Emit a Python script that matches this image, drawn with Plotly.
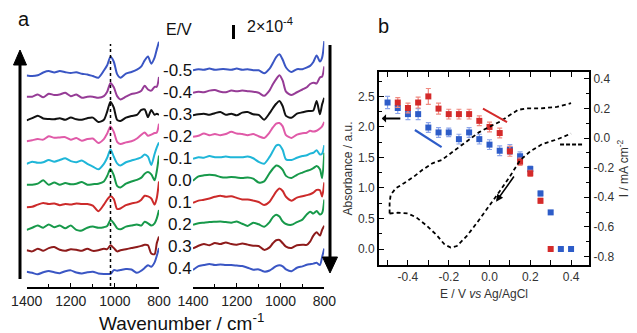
import plotly.graph_objects as go

# ---------------- data: panel a (spectra, units of ~1e-4 absorbance) ----------------
wavenumber = [1400, 1375, 1350, 1325, 1300, 1275, 1250, 1225, 1200, 1175, 1150, 1125, 1100, 1075,
              1050, 1035, 1020, 1005, 990, 975, 950, 925, 900, 880, 865, 850, 835, 820, 810, 800]
potentials = ["-0.5", "-0.4", "-0.3", "-0.2", "-0.1", "0.0", "0.1", "0.2", "0.3", "0.4"]

left_m05 = [-0.25, -0.35, -0.2, 0.3, 0.55, 0.3, 0.55, 0.35, 0.2, 0.35, 0.05, -0.05, -0.35, -0.65, 0.65, 1.6, 3.15, 2.25, 0.0, -0.65, 0.1, 0.4, 0.8, 1.4, 2.5, 3.2, 1.9, 3.0, 4.5, 5.9]
left_m04 = [-0.1, -0.1, 0.3, -0.2, 0.45, 0.2, 0.3, 0.6, 0.0, 0.3, -0.3, -0.1, -0.1, -0.3, 0.0, 0.8, 2.4, 1.6, 0.0, -0.6, -0.1, 0.4, 0.6, 1.0, 1.9, 1.2, 1.0, 1.7, 1.7, 3.5]
left_m03 = [-0.4, 0.0, 0.45, -0.05, -0.15, -0.2, 0.0, -0.3, 0.1, -0.2, -0.3, 0.0, 0.1, -0.7, -0.3, 1.2, 3.0, 1.9, -0.3, -0.5, 0.1, 0.4, 0.6, 1.5, 1.6, 0.2, 1.5, 0.6, 0.8, 0.6]
left_m02 = [-0.2, 0.0, 0.2, 0.1, 0.7, 0.45, 0.5, 0.55, 0.1, 0.4, -0.1, 0.2, 0.3, -0.5, 0.2, 1.2, 2.5, 1.5, -0.3, -0.7, -0.4, -0.2, 0.3, 1.0, 1.4, 0.8, 1.0, 1.3, 1.4, 3.0]
left_m01 = [-0.3, 0.1, -0.1, 0.0, 0.4, 0.1, 0.4, 0.7, 0.2, 0.0, 0.3, -0.3, -0.8, -1.3, -0.3, 0.8, 2.3, 1.0, -0.2, -0.6, 0.0, 0.3, 0.6, 0.9, 1.4, 1.0, -0.5, 1.5, 2.7, 3.6]
left_p00 = [-0.1, -0.1, 0.1, 0.7, -0.1, 0.3, -0.1, 0.2, 0.0, 0.1, 0.4, -0.1, 0.0, 0.1, 0.5, 1.5, 2.8, 1.6, -0.3, -0.6, 0.1, 0.5, 0.8, 1.2, 1.9, 2.2, 1.8, 0.7, 2.4, 5.2]
left_p01 = [-0.2, -0.1, 0.3, 0.6, 0.4, 0.5, 0.2, 0.4, 0.3, 0.5, 0.4, 0.4, 0.1, -0.9, 0.3, 1.2, 1.8, 1.3, -0.5, -0.4, 0.2, 0.5, 0.7, 1.2, 1.9, 1.8, 1.4, 0.3, 1.5, 4.5]
left_p02 = [-0.3, 0.1, 0.5, 0.1, 0.7, 0.2, 0.5, 0.0, 0.5, -0.3, -0.4, 0.1, 0.3, 0.1, 0.2, 0.4, 1.5, 0.9, 0.0, -0.2, 0.3, 0.5, 0.7, 0.5, 1.2, 0.9, 0.5, 0.9, 1.8, 3.3]
left_p03 = [0.0, -0.2, 0.3, -0.1, 0.4, 0.6, 0.1, -0.1, 0.2, 0.1, -0.1, 0.3, -0.1, 0.0, 0.3, 0.2, 0.9, 0.4, -0.2, 0.0, 0.2, 0.4, 0.6, 0.8, 1.0, 0.9, -0.6, -0.7, 1.3, 2.5]
left_p04 = [0.1, -0.1, -0.35, 0.0, 0.25, 0.0, -0.15, 0.2, 0.35, -0.05, -0.2, 0.0, 0.1, -0.2, -0.3, -0.3, -0.3, 0.4, 0.3, 0.4, 0.6, 0.5, -0.1, 0.3, 0.8, 1.3, 1.0, 1.8, 3.0, 4.4]

right_m05 = [0.0, 0.2, 0.1, 0.3, 0.1, 0.2, 0.2, 0.1, 0.3, 0.1, 0.2, 0.0, 0.0, -0.55, 0.3, 1.3, 2.4, 2.9, 1.9, 0.5, -0.3, 0.2, 0.2, 0.5, 0.8, 1.5, 2.7, 1.6, 2.3, 5.3]
right_m04 = [-0.1, 0.1, 0.0, 0.3, 0.4, 0.1, 0.0, 0.3, 0.2, 0.3, 0.2, 0.1, -0.1, -0.65, 0.35, 1.45, 2.4, 3.1, 2.1, 0.1, -0.5, 0.0, 0.5, 0.9, 1.5, 1.75, 1.6, 2.7, 2.85, 4.7]
right_m03 = [-0.2, 0.0, 0.1, -0.1, 0.2, 0.4, -0.1, 0.1, -0.2, 0.3, 0.4, 0.0, -0.1, -1.0, 0.2, 1.1, 1.9, 2.4, 1.45, -0.3, -0.65, 0.1, 0.35, 0.55, 0.6, 0.7, 2.4, 0.0, 1.8, 3.0]
right_m02 = [-0.1, 0.1, 0.5, 0.2, 0.4, 0.2, 0.4, 0.8, 0.5, 0.4, 0.2, 0.4, 0.0, -0.3, 0.7, 1.6, 2.3, 2.4, 1.8, 0.2, -0.3, 0.3, 0.55, 0.65, 1.0, 0.85, 1.0, 1.4, 1.8, 2.6]
right_m01 = [-0.1, 0.2, 0.1, 0.4, 0.2, 0.2, 0.3, 0.2, 0.2, 0.2, 0.3, 0.0, -0.65, -1.0, 0.25, 1.3, 2.3, 2.4, 1.5, -0.2, -0.3, 0.1, 0.4, 0.55, 0.85, 1.0, 1.45, 0.7, 0.85, 2.4]
right_p00 = [-0.1, 0.7, 0.9, 1.0, 0.9, 0.6, 0.5, 0.6, 0.5, 0.4, 0.5, 0.3, -0.4, -0.2, 1.3, 2.1, 2.7, 2.5, 1.9, 0.8, 0.4, 1.0, 1.4, 1.7, 1.9, 2.2, 2.6, 2.0, 0.4, 5.0]
right_p01 = [-0.1, 0.3, 0.45, 0.7, 1.0, 1.2, 1.0, 1.1, 0.8, 0.5, 0.5, 0.3, 0.05, -0.5, 0.1, 1.0, 1.95, 2.5, 2.05, 1.0, 0.3, 0.85, 1.1, 1.3, 1.45, 1.75, 2.25, 2.2, 1.05, 3.6]
right_p02 = [-0.1, 0.2, 0.3, 0.4, 0.45, 0.5, 0.4, 0.3, 0.5, 0.1, -0.3, 0.3, 0.0, -0.45, 0.4, 1.3, 1.75, 1.4, 0.5, 0.05, -0.1, 0.4, 0.85, 1.8, 2.3, 1.95, 2.4, 1.8, 2.05, 4.5]
right_p03 = [-0.4, 0.1, 0.4, 0.2, 0.6, 0.4, 0.7, 0.4, 0.3, 0.5, 0.3, 0.1, 0.05, -0.65, -0.2, 0.55, 1.1, 1.15, 0.55, -0.05, -0.3, 0.2, 0.3, 0.25, 0.85, 1.95, 2.55, 1.95, 3.0, 3.75]
right_p04 = [-0.3, 0.4, 0.6, 0.8, 0.6, 0.7, 0.6, 0.6, 0.5, 0.4, 0.1, -0.25, -0.2, -0.6, -0.4, 0.0, 0.4, 0.55, 0.35, -0.2, -0.55, 0.1, 0.35, 0.65, 0.75, 0.85, 1.0, 0.6, 2.05, 3.6]

left_spectra = [left_m05, left_m04, left_m03, left_m02, left_m01, left_p00, left_p01, left_p02, left_p03, left_p04]
right_spectra = [right_m05, right_m04, right_m03, right_m02, right_m01, right_p00, right_p01, right_p02, right_p03, right_p04]
spec_colors = ["#3a56c4", "#963c96", "#111111", "#e05aa8", "#1fb6d8", "#17994a", "#cc2a2a", "#17994a", "#8e1b1b", "#3a56c4"]
wn_ticks = [1400, 1200, 1000, 800]

# ---------------- data: panel b ----------------
E_red = [-0.45, -0.4, -0.35, -0.3, -0.25, -0.2, -0.15, -0.1, -0.05, 0.0, 0.05, 0.1, 0.15, 0.2, 0.25, 0.3]
A_red = [2.40, 2.31, 2.40, 2.50, 2.30, 2.21, 2.21, 2.21, 2.10, 2.00, 1.90, 1.60, 1.43, 1.24, 0.79, 0.0]
err_red = [0.08, 0.08, 0.09, 0.13, 0.09, 0.08, 0.08, 0.08, 0.08, 0.08, 0.08, 0.08, 0.06, 0.05, 0.04, 0.02]
E_blue = [-0.5, -0.45, -0.4, -0.35, -0.3, -0.25, -0.2, -0.15, -0.1, -0.05, 0.0, 0.05, 0.1, 0.15, 0.2, 0.25, 0.3, 0.35, 0.4]
A_blue = [2.40, 2.31, 2.21, 2.21, 1.99, 1.91, 1.91, 1.80, 1.91, 1.80, 1.71, 1.61, 1.63, 1.52, 1.31, 0.91, 0.60, 0.0, 0.0]
err_blue = [0.10, 0.09, 0.09, 0.09, 0.08, 0.08, 0.07, 0.08, 0.08, 0.08, 0.08, 0.08, 0.08, 0.07, 0.05, 0.04, 0.03, 0.02, 0.02]

cv_up_E = [-0.49, -0.49, -0.485, -0.46, -0.42, -0.37, -0.33, -0.28, -0.235, -0.145, -0.05, 0.0, 0.05, 0.10, 0.14, 0.18, 0.25, 0.33, 0.40]
cv_up_I = [-0.51, -0.44, -0.385, -0.34, -0.306, -0.26, -0.216, -0.171, -0.149, -0.06, 0.04, 0.076, 0.11, 0.155, 0.19, 0.20, 0.20, 0.21, 0.235]
cv_dn_E = [-0.49, -0.45, -0.40, -0.36, -0.31, -0.26, -0.22, -0.19, -0.16, -0.11, -0.06, 0.0, 0.05, 0.10, 0.15, 0.20, 0.26, 0.33, 0.40]
cv_dn_I = [-0.51, -0.505, -0.51, -0.535, -0.59, -0.655, -0.72, -0.74, -0.73, -0.66, -0.57, -0.46, -0.36, -0.26, -0.15, -0.09, -0.04, -0.01, 0.03]

E_ticks = [-0.4, -0.2, 0.0, 0.2, 0.4]
E_ticktext = ["-0.4", "-0.2", "0.0", "0.2", "0.4"]
A_ticks = [0.0, 0.5, 1.0, 1.5, 2.0, 2.5]
A_ticktext = ["0.0", "0.5", "1.0", "1.5", "2.0", "2.5"]
I_ticks = [0.4, 0.2, 0.0, -0.2, -0.4, -0.6, -0.8]
I_ticktext = ["0.4", "0.2", "0.0", "-0.2", "-0.4", "-0.6", "-0.8"]

# ---------------- figure ----------------
PAGE_OFF = 8                  # page body margin in the browser
W, H = 637 - PAGE_OFF, 333 - PAGE_OFF
FONT = "Liberation Sans, Arial, Helvetica, sans-serif"
def pxx(x):
    return (x - PAGE_OFF) / W
def pxy(y):
    return 1 - (y - PAGE_OFF) / H

SPACING = 4.0
fig = go.Figure()
n = len(potentials)
for i in range(n):
    off = (n - 1 - i) * SPACING
    fig.add_trace(go.Scatter(x=wavenumber, y=[v + off for v in left_spectra[i]], mode="lines",
                             line=dict(color=spec_colors[i], width=2, shape="spline", smoothing=0.7),
                             xaxis="x", yaxis="y", hoverinfo="skip", cliponaxis=False))
    fig.add_trace(go.Scatter(x=wavenumber, y=[v + off for v in right_spectra[i]], mode="lines",
                             line=dict(color=spec_colors[i], width=2, shape="spline", smoothing=0.7),
                             xaxis="x2", yaxis="y2", hoverinfo="skip", cliponaxis=False))

# panel b
fig.add_trace(go.Scatter(x=cv_up_E, y=cv_up_I, mode="lines", line=dict(color="black", width=1.8, dash="4px,3px"),
                         xaxis="x3", yaxis="y4"))
fig.add_trace(go.Scatter(x=cv_dn_E, y=cv_dn_I, mode="lines", line=dict(color="black", width=1.8, dash="4px,3px"),
                         xaxis="x3", yaxis="y4"))
fig.add_trace(go.Scatter(x=E_blue, y=A_blue, mode="markers",
                         marker=dict(symbol="square", size=6, color="#2d5cc8"),
                         error_y=dict(type="data", array=err_blue, color="#8ea6ea", thickness=1.2, width=2.5),
                         xaxis="x3", yaxis="y3", cliponaxis=False))
fig.add_trace(go.Scatter(x=E_red, y=A_red, mode="markers",
                         marker=dict(symbol="square", size=6, color="#d42a2a"),
                         error_y=dict(type="data", array=err_red, color="#f08a80", thickness=1.2, width=2.5),
                         xaxis="x3", yaxis="y3", cliponaxis=False))

axis_common = dict(showgrid=False, zeroline=False, showline=True, linecolor="black", ticks="inside",
                   tickcolor="black", tickfont=dict(size=14, color="#222", family=FONT), automargin=False)
minor_wn = dict(tickmode="linear", tick0=800, dtick=100, ticklen=3, ticks="inside", tickcolor="black")

fig.update_layout(
    width=W, height=H, margin=dict(l=0, r=0, t=0, b=0, autoexpand=False),
    paper_bgcolor="white", plot_bgcolor="rgba(0,0,0,0)", showlegend=False,
    font=dict(family=FONT, color="#111"),
    xaxis=dict(domain=[pxx(26.7), pxx(159)], range=[1400, 800], anchor="y", tickvals=wn_ticks,
               ticklen=4, linewidth=1.5, minor=minor_wn, **axis_common),
    yaxis=dict(domain=[pxy(287), pxy(40)], range=[-2.67, 42.2], visible=False),
    xaxis2=dict(domain=[pxx(193), pxx(324.3)], range=[1400, 800], anchor="y2", tickvals=wn_ticks,
                ticklen=4, linewidth=1.5, minor=minor_wn, **axis_common),
    yaxis2=dict(domain=[pxy(287), pxy(40)], range=[-3.4, 41.5], visible=False),
    xaxis3=dict(domain=[pxx(379), pxx(589)], range=[-0.542, 0.488], anchor="y3",
                showgrid=False, zeroline=False, showline=True, linecolor="black", linewidth=2,
                mirror="allticks", ticks="inside", ticklen=5, tickcolor="black",
                tickvals=E_ticks, ticktext=E_ticktext, tickfont=dict(size=12, color="#333"),
                minor=dict(tickmode="linear", tick0=0, dtick=0.1, ticklen=3, ticks="inside", tickcolor="black"),
                title=dict(text="E / V <i>vs</i> Ag/AgCl", font=dict(size=12, color="#333"), standoff=6)),
    yaxis3=dict(domain=[pxy(265), pxy(72)], range=[-0.262, 2.90], anchor="x3",
                showgrid=False, zeroline=False, showline=True, linecolor="black", linewidth=2,
                ticks="inside", ticklen=5, tickcolor="black",
                tickvals=A_ticks, ticktext=A_ticktext, tickfont=dict(size=12, color="#333"),
                minor=dict(tickmode="linear", tick0=0, dtick=0.25, ticklen=3, ticks="inside", tickcolor="black"),
                title=dict(text="Absorbance / a.u.", font=dict(size=12, color="#333"), standoff=3)),
    yaxis4=dict(range=[-0.858, 0.446], overlaying="y3", side="right", anchor="x3",
                showgrid=False, zeroline=False, showline=True, linecolor="black", linewidth=2,
                ticks="inside", ticklen=5, tickcolor="black",
                tickvals=I_ticks, ticktext=I_ticktext, tickfont=dict(size=12, color="#333"),
                minor=dict(tickmode="linear", tick0=0, dtick=0.1, ticklen=3, ticks="inside", tickcolor="black"),
                title=dict(text="I / mA cm<sup>-2</sup>", font=dict(size=12, color="#333"), standoff=6)),
)

shapes = []
shapes.append(dict(type="line", xref="x", yref="paper", x0=1020, x1=1020, y0=pxy(286), y1=pxy(44),
                   line=dict(color="black", width=1.5, dash="dot")))
shapes.append(dict(type="line", xref="paper", yref="paper", x0=pxx(20), x1=pxx(20), y0=pxy(279), y1=pxy(62),
                   line=dict(color="black", width=3)))
shapes.append(dict(type="path", xref="paper", yref="paper",
                   path=f"M {pxx(13.5)} {pxy(65)} L {pxx(26.5)} {pxy(65)} L {pxx(20)} {pxy(50)} Z",
                   fillcolor="black", line=dict(color="black", width=1)))
shapes.append(dict(type="line", xref="paper", yref="paper", x0=pxx(330), x1=pxx(330), y0=pxy(45), y1=pxy(260),
                   line=dict(color="black", width=3)))
shapes.append(dict(type="path", xref="paper", yref="paper",
                   path=f"M {pxx(322.5)} {pxy(257)} L {pxx(337.5)} {pxy(257)} L {pxx(330)} {pxy(273)} Z",
                   fillcolor="black", line=dict(color="black", width=1)))
shapes.append(dict(type="line", xref="paper", yref="paper", x0=pxx(233.5), x1=pxx(233.5), y0=pxy(39), y1=pxy(25),
                   line=dict(color="black", width=3)))
shapes.append(dict(type="line", xref="x3", yref="y3", x0=-0.032, y0=2.30, x1=0.086, y1=2.08,
                   line=dict(color="#d42a2a", width=2)))
shapes.append(dict(type="line", xref="x3", yref="y3", x0=-0.366, y0=1.95, x1=-0.235, y1=1.67,
                   line=dict(color="#2d5cc8", width=2.2)))
shapes.append(dict(type="line", xref="x3", yref="y4", x0=0.346, y0=-0.043, x1=0.454, y1=-0.043,
                   line=dict(color="black", width=2, dash="4px,2px")))
fig.update_layout(shapes=shapes)

ann = []
for i, p in enumerate(potentials):
    off = (n - 1 - i) * SPACING
    ann.append(dict(x=pxx(194), xref="paper", y=off + 0.7, yref="y", text=p, showarrow=False,
                    xanchor="right", yanchor="middle", font=dict(size=17, color="#111", family=FONT)))
ann.append(dict(x=pxx(179), y=pxy(29), xref="paper", yref="paper", text="E/V", showarrow=False,
                font=dict(size=16, color="#111"), xanchor="center", yanchor="middle"))
ann.append(dict(x=pxx(245), y=pxy(25), xref="paper", yref="paper", text="2×10<sup>-4</sup>", showarrow=False,
                font=dict(size=16, color="#111"), xanchor="left", yanchor="middle"))
ann.append(dict(x=pxx(24), y=pxy(19), xref="paper", yref="paper", text="a", showarrow=False,
                font=dict(size=20, color="#111"), xanchor="center", yanchor="middle"))
ann.append(dict(x=pxx(383), y=pxy(26), xref="paper", yref="paper", text="b", showarrow=False,
                font=dict(size=20, color="#111"), xanchor="center", yanchor="middle"))
ann.append(dict(x=pxx(181), y=pxy(322), xref="paper", yref="paper", text="Wavenumber / cm<sup>-1</sup>",
                showarrow=False, font=dict(size=19, color="#111"), xanchor="center", yanchor="middle"))
ann.append(dict(x=-0.528, y=2.14, xref="x3", yref="y3", ax=-0.43, ay=2.14, axref="x3", ayref="y3",
                text="", showarrow=True, arrowhead=1, arrowsize=0.7, arrowwidth=2, arrowcolor="black"))
ann.append(dict(x=0.032, y=-0.43, xref="x3", yref="y4", ax=0.125, ay=-0.25, axref="x3", ayref="y4",
                text="", showarrow=True, arrowhead=2, arrowsize=0.9, arrowwidth=1.6, arrowcolor="black"))
fig.update_layout(annotations=ann)

fig.write_html("out.html")
